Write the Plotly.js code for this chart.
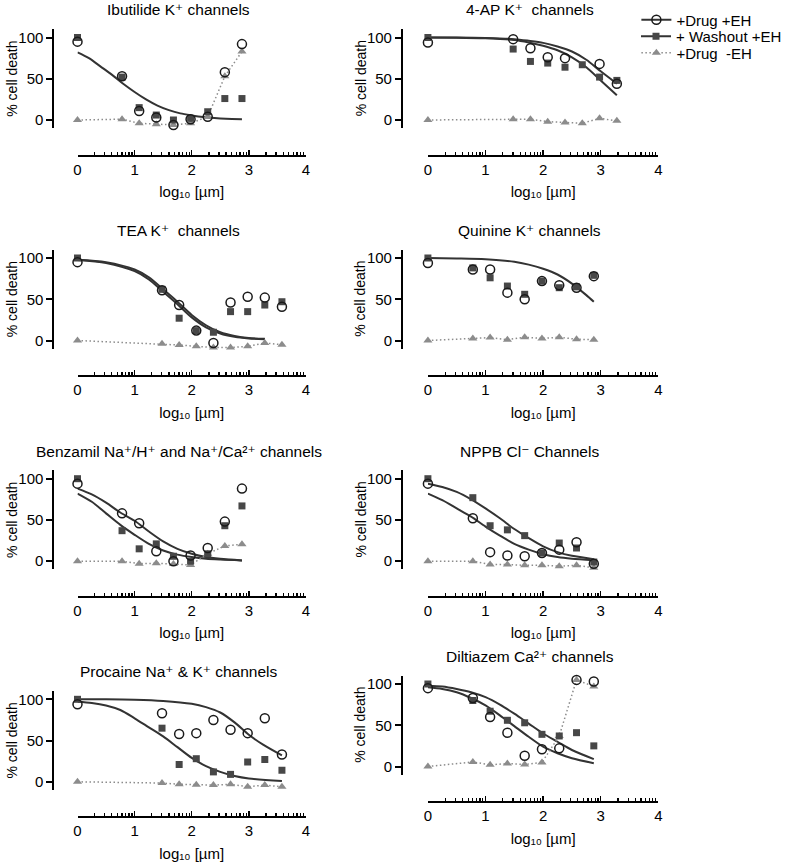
<!DOCTYPE html>
<html><head><meta charset="utf-8">
<script src="https://cdn.plot.ly/plotly-3.0.1.min.js"></script>
<style>html,body{margin:0;padding:0;background:#fff}</style>
</head><body><div id="chart" style="width:787px;height:866px"></div>
<script>
// ---------- DATA ----------
const logConcA = [0, 0.78, 1.08, 1.38, 1.68, 1.98, 2.28, 2.58, 2.88];
const logConcB = [0, 1.48, 1.78, 2.08, 2.38, 2.68, 2.98, 3.28, 3.58];
const logConcB8 = [0, 1.48, 1.78, 2.08, 2.38, 2.68, 2.98, 3.28];

const panelTitles = [
  "Ibutilide K⁺ channels",
  "4-AP K⁺  channels",
  "TEA K⁺  channels",
  "Quinine K⁺ channels",
  "Benzamil Na⁺/H⁺ and Na⁺/Ca²⁺ channels",
  "NPPB Cl⁻ Channels",
  "Procaine Na⁺ &amp; K⁺ channels",
  "Diltiazem Ca²⁺ channels"
];
const seriesNames = ["+Drug +EH", "+ Washout +EH", "+Drug  -EH"];
const yTickVals = [0, 50, 100];
const xTickVals = [0, 1, 2, 3, 4];
const yTitle = "% cell death";
const xTitle = "log₁₀ [µm]";

// Ibutilide
const ibuDrugEH   = [95, 53, 11, 3, -6, 1, 4, 58, 92];
const ibuWashEH   = [100, 52, 15, 6, 0, 2, 10, 26, 26];
const ibuDrugNoEH = [0, 1, -4, -5, -6, -4, 4, 53, 83];
const ibuFitX = [0, 0.2, 0.4, 0.6, 0.8, 1.0, 1.2, 1.4, 1.6, 1.8, 2.0, 2.2, 2.4, 2.6, 2.88];
const ibuFit  = [82, 75, 65, 55, 44, 34, 25, 17.5, 12, 8, 5.5, 3.5, 2.3, 1.5, 1];

// 4-AP
const apDrugEH   = [94, 98, 87, 76, 75, null, 68, 44];
const apWashEH   = [100, 86, 71, 69, 64, 67, 52, 48];
const apDrugNoEH = [0, 1, 1, -2, -3, -4, 2, -1];
const apFitX  = [0, 0.5, 1, 1.5, 1.75, 2, 2.25, 2.5, 2.75, 3, 3.28];
const apFitA  = [100, 100, 99.5, 98, 96, 93.5, 89, 83, 73, 59, 44];
const apFitB  = [100, 99.8, 99, 97, 94, 90, 84.5, 76, 64, 48, 30];

// TEA
const teaDrugEH   = [95, 61, 43, 12, -3, 46, 53, 52, 41];
const teaWashEH   = [100, 62, 27, 12, 10, 35, 35, 43, 47];
const teaDrugNoEH = [0, -4, -5.5, -7, -8.5, -8.5, -7, -3, -5];
const teaFitX = [0, 0.5, 1, 1.25, 1.5, 1.75, 2, 2.25, 2.5, 2.75, 3, 3.28];
const teaFitA = [97.5, 94, 84, 74, 59, 44, 28, 16, 8.5, 4.5, 2.5, 1.5];
const teaFitB = [98, 95, 86, 76.5, 62, 47, 31, 18.5, 10, 5.5, 3, 2];

// Quinine
const quiDrugEH   = [94, 86, 86, 58, 50, 72, 67, 64, 78];
const quiWashEH   = [100, 88, 76, 66, 56, 72, 64, 65, 79];
const quiDrugNoEH = [0, 2.5, 3.5, 1, 4, 2.5, 4, 1.5, 1];
const quiFitX = [0, 0.5, 1, 1.5, 1.75, 2, 2.25, 2.5, 2.75, 2.88];
const quiFit  = [100, 99.5, 98.5, 95.5, 92, 87, 80, 69, 55, 47];

// Benzamil
const benDrugEH   = [94, 58, 46, 12, 0, 7, 16, 48, 88];
const benWashEH   = [100, 37, 15, 21, 6, 0, 9, 43, 67];
const benDrugNoEH = [0, 0, -3, -2.5, -3.5, -4.5, 9, 18.5, 20.5];
const benFitX = [0, 0.25, 0.5, 0.75, 1, 1.25, 1.5, 1.75, 2, 2.25, 2.5, 2.88];
const benFitA = [88, 81, 71, 59, 49, 36, 24, 15, 9, 5, 3, 1];
const benFitB = [82, 72, 58, 44, 32, 21, 13, 8, 5, 3, 2, 1];

// NPPB
const nppbDrugEH   = [94, 52, 11, 7, 6, 10, 14, 23, -3];
const nppbWashEH   = [100, 77, 43, 38, 31, 10, 22, 16, -1];
const nppbDrugNoEH = [0, 0, -4, -4, -5, -5, -6, -5, -8];
const nppbFitX = [0, 0.25, 0.5, 0.75, 1, 1.25, 1.5, 1.75, 2, 2.25, 2.5, 2.88];
const nppbFitA = [94, 90, 84, 75, 64, 52, 39, 28, 18, 11, 6.5, 2.5];
const nppbFitB = [82, 74, 64, 54, 42, 31, 21, 14, 8.5, 5, 3, 1.2];

// Procaine
const proDrugEH   = [94, 83, 58, 59, 75, 63, 59, 77, 33];
const proWashEH   = [100, 65, 21, 28, 12, 9, 24, 27, 14];
const proDrugNoEH = [0, -1.5, -3, -3.5, -4, -3, -6, -4, -6];
const proFitAX = [0, 0.5, 1, 1.5, 2, 2.25, 2.5, 2.75, 3, 3.25, 3.58];
const proFitA  = [100, 100, 99.5, 98, 94.5, 90.5, 84, 72, 57, 45, 32];
const proFitBX = [0, 0.25, 0.5, 0.75, 1, 1.25, 1.5, 1.75, 2, 2.25, 2.5, 2.75, 3, 3.58];
const proFitB  = [97, 95.5, 92.5, 87, 77, 66, 55, 42, 29, 19, 12, 7, 4, 1];

// Diltiazem
const dilDrugEH   = [95, 83, 60, 41, 13, 21, 22, 105, 103];
const dilWashEH   = [100, 80, 67, 56, 53, 39, 37, 41, 25];
const dilDrugNoEH = [0, 5.5, 2, 3.5, 2.5, 5, 37, 105, 97];
const dilFitX = [0, 0.25, 0.5, 0.75, 1, 1.25, 1.5, 1.75, 2, 2.25, 2.5, 2.88];
const dilFitA = [98, 97, 94, 90, 84, 75, 64, 52, 40, 30, 20, 9];
const dilFitB = [96, 94, 90, 83, 74, 62, 49, 36, 24, 16, 10, 4];

// table built from the arrays above
const panels = [
  {x: logConcA,  a: ibuDrugEH,  b: ibuWashEH,  c: ibuDrugNoEH,  fits: [[ibuFitX, ibuFit]]},
  {x: logConcB8, a: apDrugEH,   b: apWashEH,   c: apDrugNoEH,   fits: [[apFitX, apFitA], [apFitX, apFitB]]},
  {x: logConcB,  a: teaDrugEH,  b: teaWashEH,  c: teaDrugNoEH,  fits: [[teaFitX, teaFitA], [teaFitX, teaFitB]]},
  {x: logConcA,  a: quiDrugEH,  b: quiWashEH,  c: quiDrugNoEH,  fits: [[quiFitX, quiFit]]},
  {x: logConcA,  a: benDrugEH,  b: benWashEH,  c: benDrugNoEH,  fits: [[benFitX, benFitA], [benFitX, benFitB]]},
  {x: logConcA,  a: nppbDrugEH, b: nppbWashEH, c: nppbDrugNoEH, fits: [[nppbFitX, nppbFitA], [nppbFitX, nppbFitB]]},
  {x: logConcB,  a: proDrugEH,  b: proWashEH,  c: proDrugNoEH,  fits: [[proFitAX, proFitA], [proFitBX, proFitB]]},
  {x: logConcA,  a: dilDrugEH,  b: dilWashEH,  c: dilDrugNoEH,  fits: [[dilFitX, dilFitA], [dilFitX, dilFitB]]}
];

// ---------- STYLE / LAYOUT ----------
const W = 787, H = 866;
const px = v => v / W, py = v => 1 - v / H;
const FONT = "Liberation Sans, Arial, Helvetica, DejaVu Sans, sans-serif";
const cols = [
  {x0: 77.7, x1: 306.7, yline: 53.5, tcx: 179},
  {x0: 429, x1: 660, yline: 403, tcx: 531}
];
const rowY100 = [[37.5, 37.5], [258, 258], [478.7, 478.7], [699.3, 684]];
const minorTicks = [];
for (let d = 0; d < 4; d++) for (let m = 2; m <= 9; m++) minorTicks.push(d + Math.log10(m));

const curveColor = "#333333", squareColor = "#474747", triColor = "#8c8c8c", circColor = "#1a1a1a";
const dotDash = "1.5px,2.5px";

const traces = [];
const legendRows = [20, 36.5, 53];
const layout = {
  width: W, height: H,
  margin: {l: 0, r: 0, t: 0, b: 0},
  paper_bgcolor: "#fff", plot_bgcolor: "rgba(0,0,0,0)",
  font: {family: FONT, color: "#000", size: 15},
  showlegend: true,
  annotations: []
};
["legend", "legend2", "legend3"].forEach((name, j) => {
  layout[name] = {x: px(638), y: py(legendRows[j]), xanchor: "left", yanchor: "middle",
    font: {family: FONT, size: 15, color: "#000"}, bgcolor: "rgba(0,0,0,0)",
    borderwidth: 0, itemwidth: 30};
});

panels.forEach((p, i) => {
  const row = Math.floor(i / 2), col = i % 2;
  const c = cols[col];
  const y100 = rowY100[row][col];
  const k = i === 0 ? "" : String(i + 1);
  const xa = "x" + k, ya = "y" + k;

  layout["xaxis" + k] = {
    domain: [px(c.x0), px(c.x1)], anchor: "free", position: py(y100 + 118),
    range: [0, 4], showgrid: false, zeroline: false,
    showline: true, linecolor: "#000", linewidth: 2,
    tickmode: "array", tickvals: xTickVals, ticktext: xTickVals.map(String),
    ticks: "inside", ticklen: 5, tickwidth: 1.5, tickcolor: "#000",
    minor: {tickmode: "array", tickvals: minorTicks, ticks: "inside", ticklen: 3, tickwidth: 1.2, tickcolor: "#000", showgrid: false},
    tickfont: {family: FONT, size: 15},
    title: {text: xTitle, font: {family: FONT, size: 15}, standoff: 9}
  };
  layout["yaxis" + k] = {
    domain: [py(y100 + 90.75), py(y100 - 8.25)], anchor: "free", position: px(c.yline),
    range: [-10, 110], showgrid: false, zeroline: false,
    showline: true, linecolor: "#000", linewidth: 2,
    tickmode: "array", tickvals: yTickVals, ticktext: yTickVals.map(String),
    ticks: "outside", ticklen: 6, tickwidth: 2, tickcolor: "#000",
    tickfont: {family: FONT, size: 15}
  };
  // panel title
  layout.annotations.push({
    text: panelTitles[i], xref: "paper", yref: "paper",
    x: px(c.tcx), y: py(y100 - 27.5), xanchor: "center", yanchor: "middle",
    showarrow: false, font: {family: FONT, size: 15.5, color: "#000"}
  });
  // y-axis title
  layout.annotations.push({
    text: yTitle, xref: "paper", yref: "paper", textangle: -90,
    x: px(c.yline - 41.5), y: py(y100 + 41.25), xanchor: "center", yanchor: "middle",
    showarrow: false, font: {family: FONT, size: 14, color: "#000"}
  });

  p.fits.forEach(f => traces.push({
    x: f[0], y: f[1], xaxis: xa, yaxis: ya, type: "scatter", mode: "lines",
    line: {color: curveColor, width: 2, shape: "spline", smoothing: 0.8},
    showlegend: false, hoverinfo: "skip"
  }));
  traces.push({
    x: p.x, y: p.c, xaxis: xa, yaxis: ya, type: "scatter", mode: "lines+markers",
    line: {color: triColor, width: 1.5, dash: dotDash},
    marker: {symbol: "triangle-up", size: 8, color: triColor},
    cliponaxis: false, showlegend: false, name: seriesNames[2]
  });
  traces.push({
    x: p.x, y: p.b, xaxis: xa, yaxis: ya, type: "scatter", mode: "markers",
    marker: {symbol: "square", size: 7, color: squareColor},
    cliponaxis: false, showlegend: false, name: seriesNames[1]
  });
  traces.push({
    x: p.x, y: p.a, xaxis: xa, yaxis: ya, type: "scatter", mode: "markers",
    marker: {symbol: "circle-open", size: 9, color: circColor, line: {width: 1.5, color: circColor}},
    cliponaxis: false, showlegend: false, name: seriesNames[0]
  });
});

// legend entries (symbol + line as in the reference key), one legend per row
traces.push({x: [null], y: [null], type: "scatter", mode: "lines+markers", name: seriesNames[0], legend: "legend",
  line: {color: curveColor, width: 2}, marker: {symbol: "circle-open", size: 9, color: circColor, line: {width: 1.5}}});
traces.push({x: [null], y: [null], type: "scatter", mode: "lines+markers", name: seriesNames[1], legend: "legend2",
  line: {color: curveColor, width: 2}, marker: {symbol: "square", size: 7, color: squareColor}});
traces.push({x: [null], y: [null], type: "scatter", mode: "lines+markers", name: seriesNames[2], legend: "legend3",
  line: {color: triColor, width: 1.5, dash: dotDash}, marker: {symbol: "triangle-up", size: 8, color: triColor}});

Plotly.newPlot("chart", traces, layout, {displayModeBar: false, staticPlot: true});
</script>
</body></html>
